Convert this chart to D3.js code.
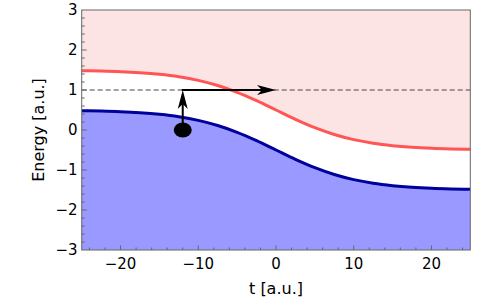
<!DOCTYPE html>
<html>
<head>
<meta charset="utf-8">
<script src="https://cdn.jsdelivr.net/npm/d3@7"></script>
<style>
  html, body { margin: 0; padding: 0; background: #fff; }
  svg { display: block; }
  text { font-family: "DejaVu Sans", sans-serif; fill: #000; }
</style>
</head>
<body>
<svg id="chart" width="500" height="300"></svg>
<script>
// ---- data ----
const tValues = [-25, -22.5, -20, -17.5, -15, -12.5, -10, -7.5, -5, -2.5, 0, 2.5, 5, 7.5, 10, 12.5, 15, 17.5, 20, 22.5, 25];
const upperEnergy = [1.483, 1.473, 1.457, 1.431, 1.391, 1.331, 1.241, 1.113, 0.943, 0.734, 0.5, 0.266, 0.057, -0.113, -0.241, -0.331, -0.391, -0.431, -0.457, -0.473, -0.483];
const lowerEnergy = [0.483, 0.473, 0.457, 0.431, 0.391, 0.331, 0.241, 0.113, -0.057, -0.266, -0.5, -0.734, -0.943, -1.113, -1.241, -1.331, -1.391, -1.431, -1.457, -1.473, -1.483];
const xTicks = [-20, -10, 0, 10, 20];
const yTicks = [-3, -2, -1, 0, 1, 2, 3];
const xDomain = [-25, 25];
const yDomain = [-3, 3];
const dashedLevel = 1;
const ballPoint = [-12, 0];
const jumpPath = [[-12, 0], [-12, 1]];
const transferPath = [[-12, 1], [0, 1]];
const xLabel = "t [a.u.]";
const yLabel = "Energy [a.u.]";

// ---- layout ----
const L = 81.7, R = 470.3, T = 10, B = 250;
const svg = d3.select("#chart");
const x = d3.scaleLinear().domain(xDomain).range([L, R]);
const y = d3.scaleLinear().domain(yDomain).range([B, T]);

const pts = tValues.map((t, i) => ({ t, up: upperEnergy[i], lo: lowerEnergy[i] }));
const curve = d3.curveMonotoneX;

const defs = svg.append("defs");
defs.append("clipPath").attr("id", "plotClip")
  .append("rect").attr("x", L).attr("y", T).attr("width", R - L).attr("height", B - T);

const g = svg.append("g").attr("clip-path", "url(#plotClip)");

// fills
g.append("path").datum(pts)
  .attr("d", d3.area().x(d => x(d.t)).y0(y(yDomain[1])).y1(d => y(d.up)).curve(curve))
  .attr("fill", "#fde4e4");
g.append("path").datum(pts)
  .attr("d", d3.area().x(d => x(d.t)).y0(y(yDomain[0])).y1(d => y(d.lo)).curve(curve))
  .attr("fill", "#9999ff");

// curves
g.append("path").datum(pts)
  .attr("d", d3.line().x(d => x(d.t)).y(d => y(d.up)).curve(curve))
  .attr("fill", "none").attr("stroke", "#ff5555").attr("stroke-width", 3);
g.append("path").datum(pts)
  .attr("d", d3.line().x(d => x(d.t)).y(d => y(d.lo)).curve(curve))
  .attr("fill", "none").attr("stroke", "#00009c").attr("stroke-width", 3);

// dashed level
g.append("line")
  .attr("x1", x(xDomain[0])).attr("x2", x(xDomain[1]))
  .attr("y1", y(dashedLevel)).attr("y2", y(dashedLevel))
  .attr("stroke", "#444").attr("stroke-width", 1.2).attr("stroke-dasharray", "5,3");

// arrows
function arrow(path) {
  const p0 = [x(path[0][0]), y(path[0][1])];
  const p1 = [x(path[1][0]), y(path[1][1])];
  const ang = Math.atan2(p1[1] - p0[1], p1[0] - p0[0]);
  const headL = 19, headW = 5, notch = 5;
  const len = Math.hypot(p1[0] - p0[0], p1[1] - p0[1]);
  const lineEnd = [p0[0] + Math.cos(ang) * (len - headL + notch), p0[1] + Math.sin(ang) * (len - headL + notch)];
  g.append("line")
    .attr("x1", p0[0]).attr("y1", p0[1]).attr("x2", lineEnd[0]).attr("y2", lineEnd[1])
    .attr("stroke", "#000").attr("stroke-width", 2);
  g.append("path")
    .attr("d", `M0,0 L${-headL},${-headW} L${-headL + notch},0 L${-headL},${headW} Z`)
    .attr("transform", `translate(${p1[0]},${p1[1]}) rotate(${ang * 180 / Math.PI})`)
    .attr("fill", "#000");
}
g.append("line")
  .attr("x1", x(transferPath[0][0]) - 1).attr("y1", y(transferPath[0][1]))
  .attr("x2", x(transferPath[0][0]) + 1).attr("y2", y(transferPath[0][1]))
  .attr("stroke", "#000").attr("stroke-width", 2);
arrow(transferPath);
arrow(jumpPath);

// ball
g.append("ellipse")
  .attr("cx", x(ballPoint[0])).attr("cy", y(ballPoint[1]))
  .attr("rx", 9).attr("ry", 7.5).attr("fill", "#000");

// frame
svg.append("rect").attr("x", L).attr("y", T).attr("width", R - L).attr("height", B - T)
  .attr("fill", "none").attr("stroke", "#666").attr("stroke-width", 1);

// ticks
const tickColor = "#666";
const axG = svg.append("g");
d3.range(-24, 25, 2).forEach(v => {
  const major = v % 10 === 0;
  axG.append("line").attr("x1", x(v)).attr("x2", x(v))
    .attr("y1", B).attr("y2", B - (major ? 4.5 : 2.5))
    .attr("stroke", tickColor).attr("stroke-width", 1);
});
d3.range(-30, 31, 2).forEach(k => {
  const v = k / 10;
  const major = k % 10 === 0;
  if (v <= yDomain[0] || v >= yDomain[1]) return;
  axG.append("line").attr("x1", L).attr("x2", L + (major ? 5 : 3))
    .attr("y1", y(v)).attr("y2", y(v))
    .attr("stroke", tickColor).attr("stroke-width", 1);
});

const fmt = d3.format("d");
xTicks.forEach(v => {
  svg.append("text").attr("x", x(v)).attr("y", 268.5)
    .attr("text-anchor", "middle").attr("font-size", 15).text(fmt(v).replace("-", "\u2212"));
});
yTicks.forEach(v => {
  svg.append("text").attr("x", 77.5).attr("y", y(v)).attr("dy", "0.36em")
    .attr("text-anchor", "end").attr("font-size", 15).text(fmt(v).replace("-", "\u2212"));
});

svg.append("text").attr("x", (L + R) / 2).attr("y", 294)
  .attr("text-anchor", "middle").attr("font-size", 16).text(xLabel);
svg.append("text")
  .attr("transform", `translate(44,${(T + B) / 2}) rotate(-90)`)
  .attr("text-anchor", "middle").attr("font-size", 16).text(yLabel);
</script>
</body>
</html>
